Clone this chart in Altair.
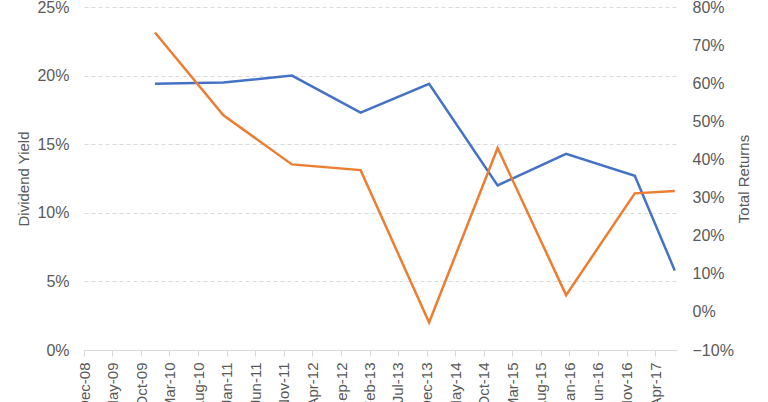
import altair as alt
import pandas as pd

dates = ["2009-12-14", "2010-12-14", "2011-12-14", "2012-12-14", "2013-12-14",
         "2014-12-14", "2015-12-14", "2016-12-14", "2017-07-15"]
dividend_yield = [19.4, 19.5, 20.0, 17.3, 19.4, 12.0, 14.3, 12.7, 5.8]
total_returns = [73.3, 51.6, 38.7, 37.2, -2.8, 43.0, 4.4, 31.1, 31.7]

tick_months = [(2008, 12), (2009, 5), (2009, 10), (2010, 3), (2010, 8), (2011, 1),
               (2011, 6), (2011, 11), (2012, 4), (2012, 9), (2013, 2), (2013, 7),
               (2013, 12), (2014, 5), (2014, 10), (2015, 3), (2015, 8), (2016, 1),
               (2016, 6), (2016, 11), (2017, 4)]

df = pd.DataFrame({
    "date": dates,
    "yield": [v / 100 for v in dividend_yield],
    "ret": [v / 100 for v in total_returns],
})

FONT = "Liberation Sans"
GRAY = "#595959"

x_enc = alt.X(
    "date:T",
    scale=alt.Scale(type="utc",
                    domain=[alt.DateTime(year=2008, month=12, date=1, utc=True),
                            alt.DateTime(year=2017, month=7, date=27, utc=True)]),
    axis=alt.Axis(
        values=[alt.DateTime(year=y, month=m, date=1, utc=True) for y, m in tick_months],
        format="%b-%y", labelAngle=270, labelAlign="right", labelBaseline="middle",
        title=None, grid=False, domainColor="#d9d9d9", tickColor="#d9d9d9",
        tickSize=6, labelPadding=6, labelFontSize=15, labelColor=GRAY,
        labelFont=FONT, labelOverlap=False, labelFlush=False,
    ),
)

blue = alt.Chart(df).mark_line(color="#4472C4", strokeWidth=2.5).encode(
    x=x_enc,
    y=alt.Y("yield:Q",
            scale=alt.Scale(domain=[0, 0.25], nice=False, zero=False),
            axis=alt.Axis(values=[0, 0.05, 0.10, 0.15, 0.20, 0.25], format=".0%",
                          title="Dividend Yield", titleFontSize=15, titleFontWeight="normal",
                          titleColor=GRAY, titleFont=FONT, titleAngle=270,
                          titleBaseline="middle", titleX=-61, titleY=171.5,
                          labelFontSize=16, labelColor=GRAY, labelFont=FONT,
                          labelPadding=15, ticks=False, tickSize=0, domain=False,
                          grid=True, gridColor="#d9d9d9", gridDash=[4, 3],
                          orient="left")),
)

orange = alt.Chart(df).mark_line(color="#ED7D31", strokeWidth=2.5).encode(
    x=x_enc,
    y=alt.Y("ret:Q",
            scale=alt.Scale(domain=[-0.1, 0.8], nice=False, zero=False),
            axis=alt.Axis(values=[-0.1, 0, 0.1, 0.2, 0.3, 0.4, 0.5, 0.6, 0.7, 0.8],
                          format=".0%",
                          title="Total Returns", titleFontSize=15, titleFontWeight="normal",
                          titleColor=GRAY, titleFont=FONT, titleAngle=270,
                          titleBaseline="middle", titleX=66, titleY=171.5,
                          labelFontSize=16, labelColor=GRAY, labelFont=FONT,
                          labelPadding=15, ticks=False, tickSize=0, domain=False,
                          grid=False, orient="right")),
)

chart = alt.layer(blue, orange).resolve_scale(y="independent").properties(
    width=593, height=343,
    autosize=alt.AutoSizeParams(type="none"),
    padding={"left": 84, "top": 7, "right": 91, "bottom": 52},
).configure_view(stroke=None)

chart.save("out.html", embed_options={"renderer": "svg", "actions": False})
